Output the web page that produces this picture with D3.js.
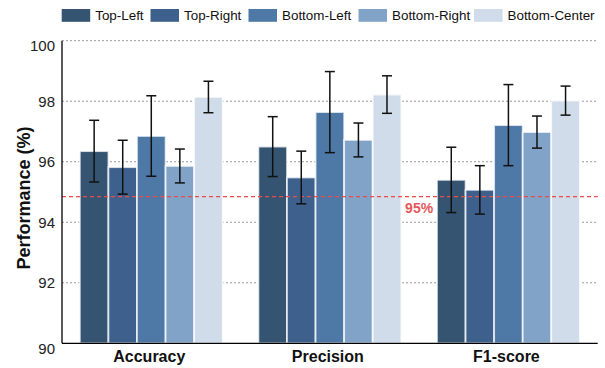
<!DOCTYPE html>
<html>
<head>
<meta charset="utf-8">
<script src="https://cdn.jsdelivr.net/npm/d3@7/dist/d3.min.js"></script>
<style>
  html, body { margin: 0; padding: 0; background: #fff; }
  svg { display: block; font-family: "Liberation Sans", Arial, sans-serif; }
</style>
</head>
<body>
<svg id="chart" width="605" height="368"></svg>
<script>
// Metrics on the x axis, one bar per region in each group
const metrics = ["Accuracy", "Precision", "F1-score"];
const regions = ["Top-Left", "Top-Right", "Bottom-Left", "Bottom-Right", "Bottom-Center"];

// Mean performance (%) per region, in metric order
const topLeft      = [96.35, 96.50, 95.40];
const topRight     = [95.82, 95.48, 95.07];
const bottomLeft   = [96.85, 97.64, 97.21];
const bottomRight  = [95.86, 96.72, 96.98];
const bottomCenter = [98.14, 98.22, 98.02];

// Standard deviation (%) per region, in metric order
const topLeftErr      = [1.02, 0.99, 1.08];
const topRightErr     = [0.89, 0.87, 0.80];
const bottomLeftErr   = [1.33, 1.34, 1.34];
const bottomRightErr  = [0.56, 0.56, 0.53];
const bottomCenterErr = [0.52, 0.62, 0.48];

const yTicks = [90, 92, 94, 96, 98, 100];
const threshold = 94.85;
const thresholdLabel = "95%";

const colors = ["#345472", "#3e608c", "#4e79a7", "#82a3c8", "#d0dcea"];

const means = [topLeft, topRight, bottomLeft, bottomRight, bottomCenter];
const errs = [topLeftErr, topRightErr, bottomLeftErr, bottomRightErr, bottomCenterErr];

const svg = d3.select("#chart");
const plotL = 62, plotR = 597.7, plotT = 40.7, plotB = 343.3;

// Group positions 0,1,2
const x = d3.scaleLinear().domain([-0.5, 2.5]).range([plotL, plotR]);
const y = d3.scaleLinear().domain([90, 100]).range([plotB, plotT]);
const barW = 0.16;
const offsets = regions.map((_, i) => (i - 2) * barW);

// Dotted horizontal gridlines
svg.append("g").selectAll("line")
  .data(yTicks.filter(t => t > 90))
  .join("line")
  .attr("x1", plotL).attr("x2", plotR)
  .attr("y1", d => y(d)).attr("y2", d => y(d))
  .attr("stroke", "#9a9a9a").attr("stroke-width", 1)
  .attr("stroke-dasharray", "2,2");

// Bars
const rows = [];
regions.forEach((r, ri) => {
  metrics.forEach((m, mi) => {
    rows.push({ ri, mi, v: means[ri][mi], e: errs[ri][mi] });
  });
});

svg.append("g").selectAll("rect")
  .data(rows)
  .join("rect")
  .attr("x", d => x(d.mi + offsets[d.ri] - barW / 2))
  .attr("width", d => x(barW) - x(0))
  .attr("y", d => y(d.v))
  .attr("height", d => y(90) - y(d.v))
  .attr("fill", d => colors[d.ri])
  .attr("stroke", "#fff").attr("stroke-opacity", 0.75).attr("stroke-width", 1.8);

// Threshold line
svg.append("line")
  .attr("x1", plotL).attr("x2", plotR)
  .attr("y1", y(threshold)).attr("y2", y(threshold))
  .attr("stroke", "#ec4b4b").attr("stroke-width", 1.3)
  .attr("stroke-dasharray", "4,3");

svg.append("text")
  .attr("x", x(1.5)).attr("y", y(threshold) + 16.5)
  .attr("text-anchor", "middle")
  .attr("font-size", 14).attr("font-weight", "bold")
  .attr("fill", "#e4585c")
  .text(thresholdLabel);

// Error bars
const eb = svg.append("g").attr("stroke", "#111").attr("stroke-width", 1.5);
const cap = 5;
rows.forEach(d => {
  const cx = x(d.mi + offsets[d.ri]);
  const y1 = y(d.v + d.e), y2 = y(d.v - d.e);
  eb.append("line").attr("x1", cx).attr("x2", cx).attr("y1", y1).attr("y2", y2);
  eb.append("line").attr("x1", cx - cap).attr("x2", cx + cap).attr("y1", y1).attr("y2", y1);
  eb.append("line").attr("x1", cx - cap).attr("x2", cx + cap).attr("y1", y2).attr("y2", y2);
});

// Axes spines
svg.append("line").attr("x1", plotL).attr("x2", plotL).attr("y1", plotT).attr("y2", plotB)
  .attr("stroke", "#000").attr("stroke-width", 1.3);
svg.append("line").attr("x1", plotL).attr("x2", plotR).attr("y1", plotB).attr("y2", plotB)
  .attr("stroke", "#000").attr("stroke-width", 1.3);

// Y tick labels
svg.append("g").selectAll("text")
  .data(yTicks)
  .join("text")
  .attr("x", plotL - 7)
  .attr("y", d => y(d) + ((d === 90 || d === 100) ? 5 : 0))
  .attr("dy", "0.36em")
  .attr("text-anchor", "end")
  .attr("font-size", 15).attr("fill", "#222")
  .text(d => d);

// Category labels
svg.append("g").selectAll("text")
  .data(metrics)
  .join("text")
  .attr("x", (d, i) => x(i) - 2)
  .attr("y", 362)
  .attr("text-anchor", "middle")
  .attr("font-size", 16).attr("font-weight", "bold").attr("fill", "#111")
  .text(d => d);

// Y axis title
svg.append("text")
  .attr("transform", `translate(30,${(plotT + plotB) / 2 + 6}) rotate(-90)`)
  .attr("text-anchor", "middle")
  .attr("font-size", 18).attr("font-weight", "bold").attr("fill", "#111")
  .text("Performance (%)");

// Legend
const legendX = [61.7, 150.5, 248.5, 358.5, 474];
const lg = svg.append("g").selectAll("g")
  .data(regions)
  .join("g")
  .attr("transform", (d, i) => `translate(${legendX[i]},9)`);
lg.append("rect").attr("width", 28.5).attr("height", 12.8).attr("fill", (d, i) => colors[i]);
lg.append("text").attr("x", 33.5).attr("y", 6.4).attr("dy", "0.36em")
  .attr("font-size", 13.4).attr("fill", "#111").text(d => d);
</script>
</body>
</html>
